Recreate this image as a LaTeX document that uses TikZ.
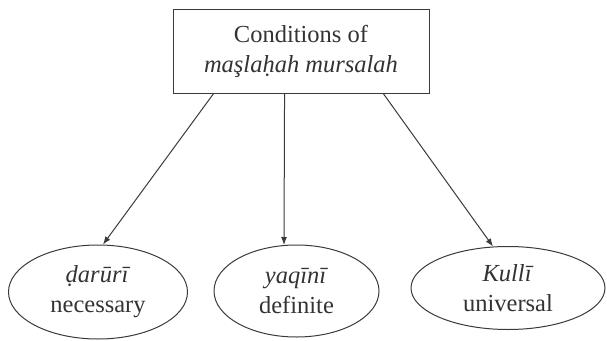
\documentclass[tikz,border=0pt]{standalone}
\usepackage{fontspec}
\setmainfont{Liberation Serif}
\usetikzlibrary{shapes.geometric,arrows.meta,calc}
\definecolor{ink}{HTML}{333333}
\definecolor{linecol}{HTML}{3a3a3a}
\begin{document}
\begin{tikzpicture}[x=1pt,y=-1pt,
  every node/.style={text=ink, font=\fontsize{24.5}{30}\selectfont, align=center},
  titlebox/.style={draw=linecol, line width=1pt, rectangle, minimum width=256pt, minimum height=84pt, inner sep=0pt},
  oval/.style={draw=linecol, line width=1pt, ellipse, inner sep=0pt},
  conn/.style={draw=linecol, line width=1pt, -{Latex[length=8pt,width=6pt]}}]
\useasboundingbox (0,0) rectangle (607,340);
\node[titlebox] (box) at (301,51) {Conditions of\\\textit{maşlaḥah mursalah}};
\node[oval, minimum width=179pt, minimum height=94pt] (e1) at (98,292) {\textit{ḍarūrī}\\necessary};
\node[oval, minimum width=165pt, minimum height=92pt] (e2) at (296.5,291) {\textit{yaqīnī}\\definite};
\node[oval, minimum width=194pt, minimum height=83pt] (e3) at (508,288) {\textit{Kullī}\\universal};
\draw[conn] ($(box.south west)!0.16!(box.south east)$) -- ($(e1.north)+(5,0)$);
\draw[conn] ($(box.south west)!0.436!(box.south east)$) -- ($(e2.north)+(-12.5,0.5)$);
\draw[conn] ($(box.south west)!0.82!(box.south east)$) -- ($(e3.north)+(-15,0.5)$);
\end{tikzpicture}
\end{document}
